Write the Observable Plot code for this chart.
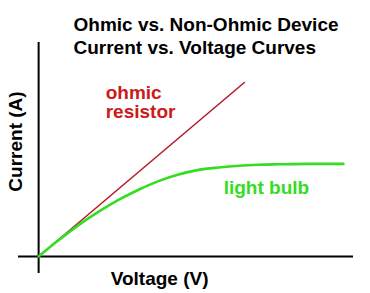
<!DOCTYPE html>
<html>
<head>
<meta charset="utf-8">
<script src="https://cdn.jsdelivr.net/npm/d3@7"></script>
<script src="https://cdn.jsdelivr.net/npm/@observablehq/plot@0.6"></script>
<style>
  html, body { margin: 0; padding: 0; background: #fff; }
  #chart { width: 370px; height: 293px; }
  svg { display: block; }
</style>
</head>
<body>
<div id="chart"></div>
<script>
// Ohmic resistor: straight line through origin
const ohmicVoltage = [0, 6.75];
const ohmicCurrent = [0, 8.7];

// Light bulb: saturating curve
const bulbVoltage = [0, 0.66, 1.31, 1.97, 2.62, 3.28, 3.93, 4.59, 5.25, 5.9, 6.56, 7.21, 7.87, 8.85, 10.0];
const bulbCurrent = [0, 0.82, 1.57, 2.24, 2.83, 3.34, 3.77, 4.1, 4.33, 4.45, 4.54, 4.59, 4.61, 4.63, 4.63];

// Text
const titleLines = ["Ohmic vs. Non-Ohmic Device", "Current vs. Voltage Curves"];
const xLabel = "Voltage (V)";
const yLabel = "Current (A)";
const seriesLabels = ["ohmic\nresistor", "light bulb"];
const labelVoltage = [2.2, 6.07];
const labelCurrent = [7.71, 3.45];

const ohmic = ohmicVoltage.map((v, i) => ({V: v, I: ohmicCurrent[i]}));
const bulb = bulbVoltage.map((v, i) => ({V: v, I: bulbCurrent[i]}));
const labels = seriesLabels.map((t, i) => ({text: t, V: labelVoltage[i], I: labelCurrent[i]}));

const RED_LINE = "#b31e2b";
const RED_TEXT = "#cc1a1a";
const GREEN = "#33dd22";
const FONT = "Liberation Sans, Arial, sans-serif";
const FS = 19;

const chart = Plot.plot({
  width: 370,
  height: 293,
  marginLeft: 18,
  marginRight: 17,
  marginTop: 42,
  marginBottom: 20,
  style: {background: "#fff", fontFamily: FONT},
  x: {domain: [-0.66, 10.33], axis: null},
  y: {domain: [-0.85, 10.7], axis: null},
  marks: [
    Plot.ruleY([0], {stroke: "#000", strokeWidth: 2}),
    Plot.ruleX([0], {stroke: "#000", strokeWidth: 2}),
    Plot.line(ohmic, {x: "V", y: "I", stroke: RED_LINE, strokeWidth: 1.6}),
    Plot.line(bulb, {x: "V", y: "I", stroke: GREEN, strokeWidth: 2.6, curve: "monotone-x"}),
    Plot.text(labels, {
      x: "V", y: "I", text: "text",
      fill: (d, i) => i === 0 ? RED_TEXT : GREEN,
      textAnchor: "start", lineAnchor: "middle", lineHeight: 1.03,
      fontSize: FS, fontWeight: "bold"
    }),
    Plot.text([titleLines.join("\n")], {
      frameAnchor: "top-left", text: d => d,
      textAnchor: "start", lineAnchor: "top", lineHeight: 1.24,
      dx: 55, dy: -28.5, fontSize: FS, fontWeight: "bold", fill: "#000"
    }),
    Plot.text([xLabel], {
      frameAnchor: "bottom", x: [3.97], text: d => d,
      textAnchor: "middle", lineAnchor: "top", dy: -2.5,
      fontSize: FS, fontWeight: "bold", fill: "#000"
    }),
    Plot.text([yLabel], {
      x: [-0.55], y: [5.75], text: d => d, rotate: -90,
      textAnchor: "middle", lineAnchor: "bottom",
      fontSize: FS, fontWeight: "bold", fill: "#000"
    })
  ]
});
document.getElementById("chart").appendChild(chart);
</script>
</body>
</html>
